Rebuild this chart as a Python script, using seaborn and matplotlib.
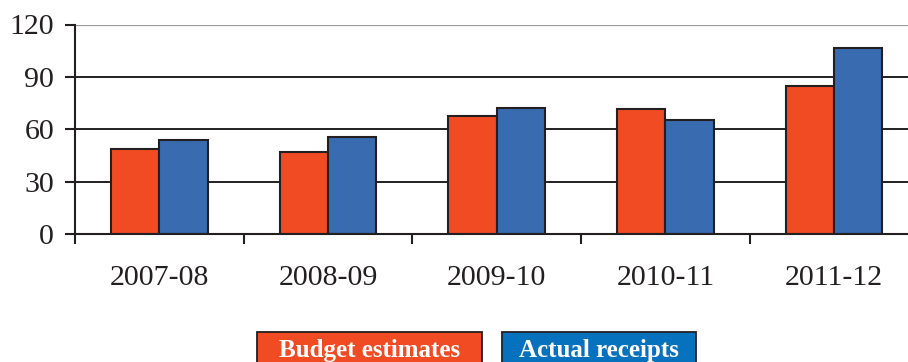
import pandas as pd
import matplotlib.pyplot as plt
import seaborn as sns
from matplotlib.patches import Rectangle


# Values
years = ["2007-08", "2008-09", "2009-10", "2010-11", "2011-12"]
budget_estimates = [48.7, 47.1, 67.4, 71.6, 84.6]
actual_receipts = [53.7, 55.6, 72.0, 65.3, 106.4]
series_names = ["Budget estimates", "Actual receipts"]
y_ticks = [0, 30, 60, 90, 120]

bar_colors = ["#F04B23", "#386BB0"]
legend_colors = ["#F04B23", "#0672BE"]

df = pd.DataFrame({
    "year": years * 2,
    "value": budget_estimates + actual_receipts,
    "series": [series_names[0]] * len(years) + [series_names[1]] * len(years),
})

sns.set_style("white")
plt.rcParams["font.family"] = ["Liberation Serif", "DejaVu Serif"]

fig = plt.figure(figsize=(9.08, 3.62), dpi=100)
ax = fig.add_axes([75 / 908, 1 - 234 / 362, 843.5 / 908, 209.5 / 362])

sns.barplot(data=df, x="year", y="value", hue="series", palette=bar_colors,
            saturation=1, width=0.573, edgecolor="#231F20", linewidth=1.5,
            legend=False, ax=ax, zorder=3)

ax.set_xlim(-0.5, 4.5)
ax.set_ylim(0, 120)
ax.set_yticks(y_ticks)
ax.set_xlabel("")
ax.set_ylabel("")

# gridlines, the top one is grey
ax.yaxis.grid(True, color="#231F20", linewidth=1.4)
for line, t in zip(ax.yaxis.get_gridlines(), y_ticks):
    if t == 120:
        line.set_color("#9A9A9A")
        line.set_linewidth(1.6)
ax.set_axisbelow(True)

for side in ["top", "right"]:
    ax.spines[side].set_visible(False)
for side in ["left", "bottom"]:
    ax.spines[side].set_color("#231F20")
    ax.spines[side].set_linewidth(1.5)
    ax.spines[side].set_zorder(4)

# ticks at category boundaries, labels at centers
ax.set_xticks([i - 0.5 for i in range(len(years) + 1)], minor=True)
ax.tick_params(axis="x", which="minor", length=7, width=1.5, direction="out",
               color="#231F20", bottom=True)
ax.tick_params(axis="x", which="major", length=0, pad=22, labelsize=21.5,
               labelcolor="#231F20")
ax.tick_params(axis="y", length=7, width=1.5, direction="out", color="#231F20",
               left=True, pad=8, labelsize=21.5, labelcolor="#231F20")

# legend drawn as coloured boxes with white text
boxes = [(257, 482), (502, 696)]
for (x0, x1), name, col in zip(boxes, series_names, legend_colors):
    fig.patches.append(Rectangle((x0 / 908, -0.05), (x1 - x0) / 908, 1 - 332 / 362 + 0.05,
                                 transform=fig.transFigure, facecolor=col,
                                 edgecolor="#231F20", linewidth=1.3))
    fig.text((x0 + x1) / 2 / 908, 1 - 350 / 362, name, ha="center", va="center",
             color="white", fontsize=18, fontweight="bold")

fig.savefig("out.png", dpi=100)
